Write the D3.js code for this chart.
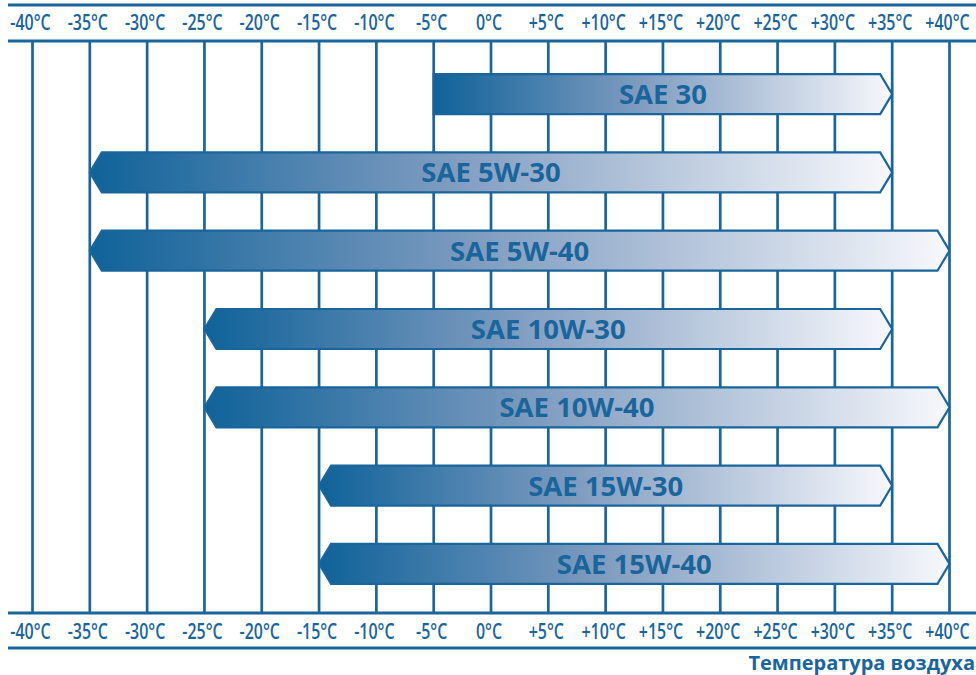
<!DOCTYPE html>
<html lang="ru">
  <head>
    <meta charset="UTF-8">
    <title>SAE oil viscosity vs air temperature</title>
    <style>
      body { margin: 0; background: #fff; }
      .grid line { stroke: #1a659b; stroke-width: 2.7; }
      .rule { stroke: #1a659b; stroke-width: 3; }
      .tick-label {
        fill: #1a659b;
        font-family: "Open Sans", sans-serif;
        font-weight: 600;
        font-size: 21px;
      }
      .bar { stroke: #1a659b; stroke-width: 2.2; }
      .bar-label {
        fill: #1a659b;
        font-family: "Open Sans", sans-serif;
        font-weight: 700;
        font-size: 27.5px;
      }
      .axis-title {
        fill: #1a659b;
        font-family: "Open Sans", sans-serif;
        font-weight: 700;
        font-size: 20px;
      }
    </style>
    <script src="https://d3js.org/d3.v7.min.js"></script>
  </head>
  <body>
    <script>
      const width = 976;
      const height = 675;

      // oil grades and their recommended air temperature range (°C)
      const grades = ["SAE 30", "SAE 5W-30", "SAE 5W-40", "SAE 10W-30", "SAE 10W-40", "SAE 15W-30", "SAE 15W-40"];
      const minTemp = [-5, -35, -35, -25, -25, -15, -15];
      const maxTemp = [35, 35, 40, 35, 40, 35, 40];
      const tempTicks = [-40, -35, -30, -25, -20, -15, -10, -5, 0, 5, 10, 15, 20, 25, 30, 35, 40];
      const axisTitle = "Температура воздуха";

      const data = grades.map((g, i) => ({ grade: g, lo: minTemp[i], hi: maxTemp[i] }));

      const svg = d3.select("body")
        .append("svg")
        .attr("width", width)
        .attr("height", height);

      const x = d3.scaleLinear()
        .domain([-40, 40])
        .range([32.5, 949.5]);

      const y = d3.scalePoint()
        .domain(grades)
        .range([55, 603])
        .padding(0.5);

      const barH = 40;
      const arrow = 12;

      const grad = svg.append("defs")
        .append("linearGradient")
        .attr("id", "barGrad")
        .attr("x1", "0%").attr("x2", "100%")
        .attr("y1", "0%").attr("y2", "0%");
      grad.append("stop").attr("offset", "0%").attr("stop-color", "#0f6299");
      grad.append("stop").attr("offset", "45%").attr("stop-color", "#7f9cc0");
      grad.append("stop").attr("offset", "100%").attr("stop-color", "#f7f8fc");

      // horizontal rules around the scale rows
      [5, 41, 613, 648].forEach(yy => {
        svg.append("line")
          .attr("class", "rule")
          .attr("x1", 8).attr("x2", width)
          .attr("y1", yy).attr("y2", yy);
      });

      // vertical grid
      svg.append("g")
        .attr("class", "grid")
        .selectAll("line")
        .data(tempTicks)
        .enter()
        .append("line")
        .attr("x1", d => x(d)).attr("x2", d => x(d))
        .attr("y1", 41).attr("y2", 613);

      const fmt = d => (d > 0 ? "+" + d : "" + d) + "°C";

      // tick labels, top and bottom
      [30, 639].forEach(base => {
        svg.append("g")
          .selectAll("text")
          .data(tempTicks)
          .enter()
          .append("text")
          .attr("class", "tick-label")
          .attr("text-anchor", "middle")
          .attr("transform", d => `translate(${x(d) - 2},${base}) scale(0.76,1)`)
          .text(fmt);
      });

      // bars: arrow on the left for multigrade (W) oils, arrow on the right always
      function barPath(d) {
        const x0 = x(d.lo), x1 = x(d.hi);
        const cy = y(d.grade), t = cy - barH / 2, b = cy + barH / 2;
        const leftArrow = d.grade.includes("W");
        const pts = [];
        if (leftArrow) {
          pts.push([x0 + arrow, t]);
        } else {
          pts.push([x0, t]);
        }
        pts.push([x1 - arrow, t], [x1, cy], [x1 - arrow, b]);
        if (leftArrow) {
          pts.push([x0 + arrow, b], [x0, cy]);
        } else {
          pts.push([x0, b]);
        }
        return "M" + pts.map(p => p.join(",")).join("L") + "Z";
      }

      svg.selectAll(".bar")
        .data(data)
        .enter()
        .append("path")
        .attr("class", "bar")
        .attr("fill", "url(#barGrad)")
        .attr("d", barPath);

      svg.selectAll(".bar-label")
        .data(data)
        .enter()
        .append("text")
        .attr("class", "bar-label")
        .attr("text-anchor", "middle")
        .attr("x", d => (x(d.lo) + x(d.hi)) / 2)
        .attr("y", d => y(d.grade) + 10)
        .text(d => d.grade);

      svg.append("text")
        .attr("class", "axis-title")
        .attr("text-anchor", "end")
        .attr("x", 975)
        .attr("y", 670)
        .text(axisTitle);
    </script>
  </body>
</html>
